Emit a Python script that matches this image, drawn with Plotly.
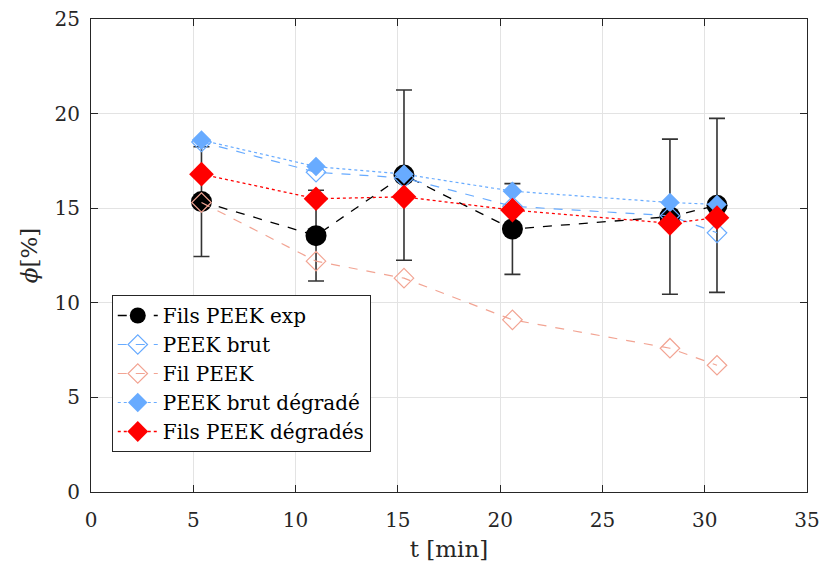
import plotly.graph_objects as go

t = [5.4, 11.0, 15.3, 20.6, 28.3, 30.6]
exp_vals = [15.35, 13.55, 16.75, 13.9, 14.55, 15.15]
exp_err = [2.9, 2.4, 4.5, 2.4, 4.1, 4.6]
brut = [18.5, 16.9, 16.6, 15.1, 14.6, 13.7]
fil = [15.3, 12.2, 11.3, 9.1, 7.6, 6.7]
brut_deg = [18.6, 17.2, 16.8, 15.9, 15.3, 15.2]
fils_deg = [16.8, 15.5, 15.6, 14.9, 14.2, 14.5]

FONT = "DejaVu Serif, serif"
BLUE = "#68ABFF"
SALMON = "#F2A493"

fig = go.Figure()
fig.add_trace(go.Scatter(
    x=t, y=exp_vals, name="Fils PEEK exp", mode="lines+markers",
    line=dict(color="black", dash="dash", width=1.3),
    marker=dict(symbol="circle", size=21, color="black"),
    error_y=dict(type="data", array=exp_err, color="#333333", thickness=1.6, width=8),
))
fig.add_trace(go.Scatter(
    x=t, y=brut, name="PEEK brut", mode="lines+markers",
    line=dict(color=BLUE, dash="dash", width=1.2),
    marker=dict(symbol="diamond-open", size=15, color=BLUE, line=dict(width=1.2)),
))
fig.add_trace(go.Scatter(
    x=t, y=fil, name="Fil PEEK", mode="lines+markers",
    line=dict(color=SALMON, dash="dash", width=1.2),
    marker=dict(symbol="diamond-open", size=15, color=SALMON, line=dict(width=1.2)),
))
fig.add_trace(go.Scatter(
    x=t, y=brut_deg, name="PEEK brut dégradé", mode="lines+markers",
    line=dict(color=BLUE, dash="dot", width=1.2),
    marker=dict(symbol="diamond", size=15, color=BLUE),
))
fig.add_trace(go.Scatter(
    x=t, y=fils_deg, name="Fils PEEK dégradés", mode="lines+markers",
    line=dict(color="red", dash="dot", width=1.3),
    marker=dict(symbol="diamond", size=19, color="red"),
))

axis_common = dict(
    showline=True, linecolor="#262626", linewidth=1.2, mirror="ticks",
    ticks="inside", ticklen=7, tickcolor="#262626",
    showgrid=True, gridcolor="#E3E3E3", gridwidth=1, zeroline=False,
    tickfont=dict(family=FONT, size=20, color="#262626"),
    automargin=False, ticklabeloverflow="allow",
)
fig.update_xaxes(range=[0, 35], dtick=5, ticklabelstandoff=10,
                 title=dict(text="t [min]", font=dict(family=FONT, size=23, color="#262626"), standoff=9),
                 **axis_common)
fig.update_yaxes(range=[0, 25], dtick=5, ticklabelstandoff=6,
                 title=dict(text="<i>ϕ</i>[%]", font=dict(family=FONT, size=23, color="#262626"), standoff=10),
                 **axis_common)

fig.update_layout(
    width=821, height=572,
    margin=dict(l=91, r=14, t=19, b=80),
    plot_bgcolor="white", paper_bgcolor="white",
    legend=dict(
        x=0.029, y=0.4165, xanchor="left", yanchor="top",
        bgcolor="white", bordercolor="#262626", borderwidth=1,
        font=dict(family=FONT, size=20, color="black"),
        tracegroupgap=0, itemwidth=40,
    ),
)
fig.write_html("out.html", config={"displayModeBar": False},
               post_script="document.body.style.margin='0';")
